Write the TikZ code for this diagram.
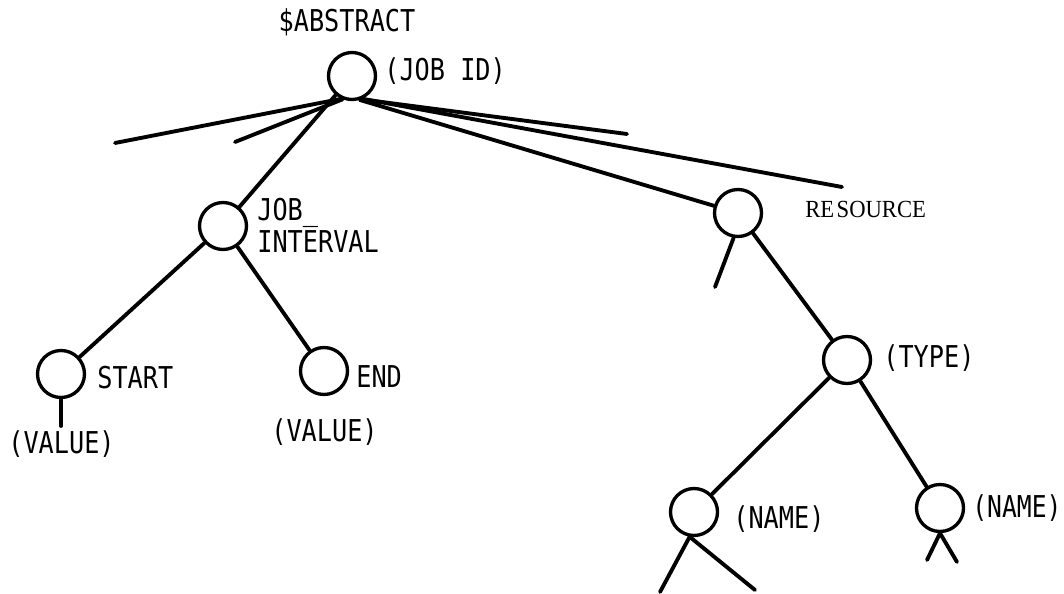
\documentclass[tikz,border=0pt]{standalone}
\usepackage{fontspec}
\usepackage{graphicx}
\newfontfamily\typefont{DejaVu Sans Mono}
\newfontfamily\printfont{Liberation Serif}
\newcommand\tall[1]{\scalebox{0.99}[1.18]{#1}}

\begin{document}
\begin{tikzpicture}[
    x=0.02cm, y=-0.02cm,
    knot/.style={draw, circle, line width=1.9pt, minimum size=0.94cm, inner sep=0pt},
    edge/.style={line width=2.2pt, line cap=round},
    lbl/.style={inner sep=0pt, font=\typefont\fontsize{14.5pt}{17.6pt}\selectfont}
  ]
    \useasboundingbox (0,0) rectangle (1064,594);

    % tree nodes
    \node[knot] (root) at (352,76) {};
    \node[knot] (jobint) at (223,226) {};
    \node[knot] (start) at (61,374) {};
    \node[knot] (end) at (324,371) {};
    \node[knot] (res) at (738,213) {};
    \node[knot] (type) at (847,360) {};
    \node[knot] (nameA) at (694,512) {};
    \node[knot] (nameB) at (940,508) {};

    % labels
    \node[lbl, anchor=base] (abstract) at (347,32) {\tall{\$ABSTRACT}};
    \node[lbl, anchor=base west] (jobid) at (384,81) {\tall{(JOB ID)}};
    \node[lbl, anchor=west] (jobintlbl) at (257,230)
      {\tall{\renewcommand\arraystretch{0.85}\begin{tabular}{@{}l@{}}JOB\_\\INTERVAL\end{tabular}}};
    \node[lbl, anchor=base west] (startlbl) at (97,388) {\tall{START}};
    \node[lbl, anchor=base west] (startval) at (8,453) {\tall{(VALUE)}};
    \node[lbl, anchor=base west] (endlbl) at (356,387) {\tall{END}};
    \node[lbl, anchor=base west] (endval) at (271,441) {\tall{(VALUE)}};
    \node[inner sep=0pt, anchor=base west, font=\printfont\fontsize{14pt}{16pt}\selectfont] (reslbl) at (805,218)
      {\scalebox{0.92}[1]{RE\kern1.5pt SOURCE}};
    \node[lbl, anchor=base west] (typelbl) at (883,367) {\tall{(TYPE)}};
    \node[lbl, anchor=base west] (nameAlbl) at (733,528) {\tall{(NAME)}};
    \node[lbl, anchor=base west] (nameBlbl) at (972,517) {\scalebox{0.97}[1.18]{(NAME)}};

    % free ends
    \coordinate (farL) at (115,143);
    \coordinate (nearL) at (235,142);
    \coordinate (nearR) at (627,134);
    \coordinate (farR) at (842,187);
    \coordinate (startEnd) at (61,426);
    \coordinate (resEnd) at (715,287);
    \coordinate (nameAL) at (660,592);
    \coordinate (nameAR) at (755,590);
    \coordinate (nameBL) at (927,560);
    \coordinate (nameBR) at (957,562);

    % branches
    \draw[edge] (root.-115) -- (farL);
    \draw[edge] (root.-112) -- (nearL);
    \draw[edge] (root) -- (jobint);
    \draw[edge] (root.-68) -- (nearR);
    \draw[edge] (root.-65) -- (farR);
    \draw[edge] (root.-72) -- (res);
    \draw[edge] (jobint) -- (start);
    \draw[edge] (jobint) -- (end);
    \draw[edge] (start.south) -- (startEnd);
    \draw[edge] (res.-100) -- (resEnd);
    \draw[edge] (res) -- (type);
    \draw[edge] (type) -- (nameA);
    \draw[edge] (type) -- (nameB);
    \draw[edge] (nameA.-100) -- (nameAL);
    \draw[edge] (nameA.-100) -- (nameAR);
    \draw[edge] (nameB.south) -- (nameBL);
    \draw[edge] (nameB.south) -- (nameBR);
\end{tikzpicture}
\end{document}
